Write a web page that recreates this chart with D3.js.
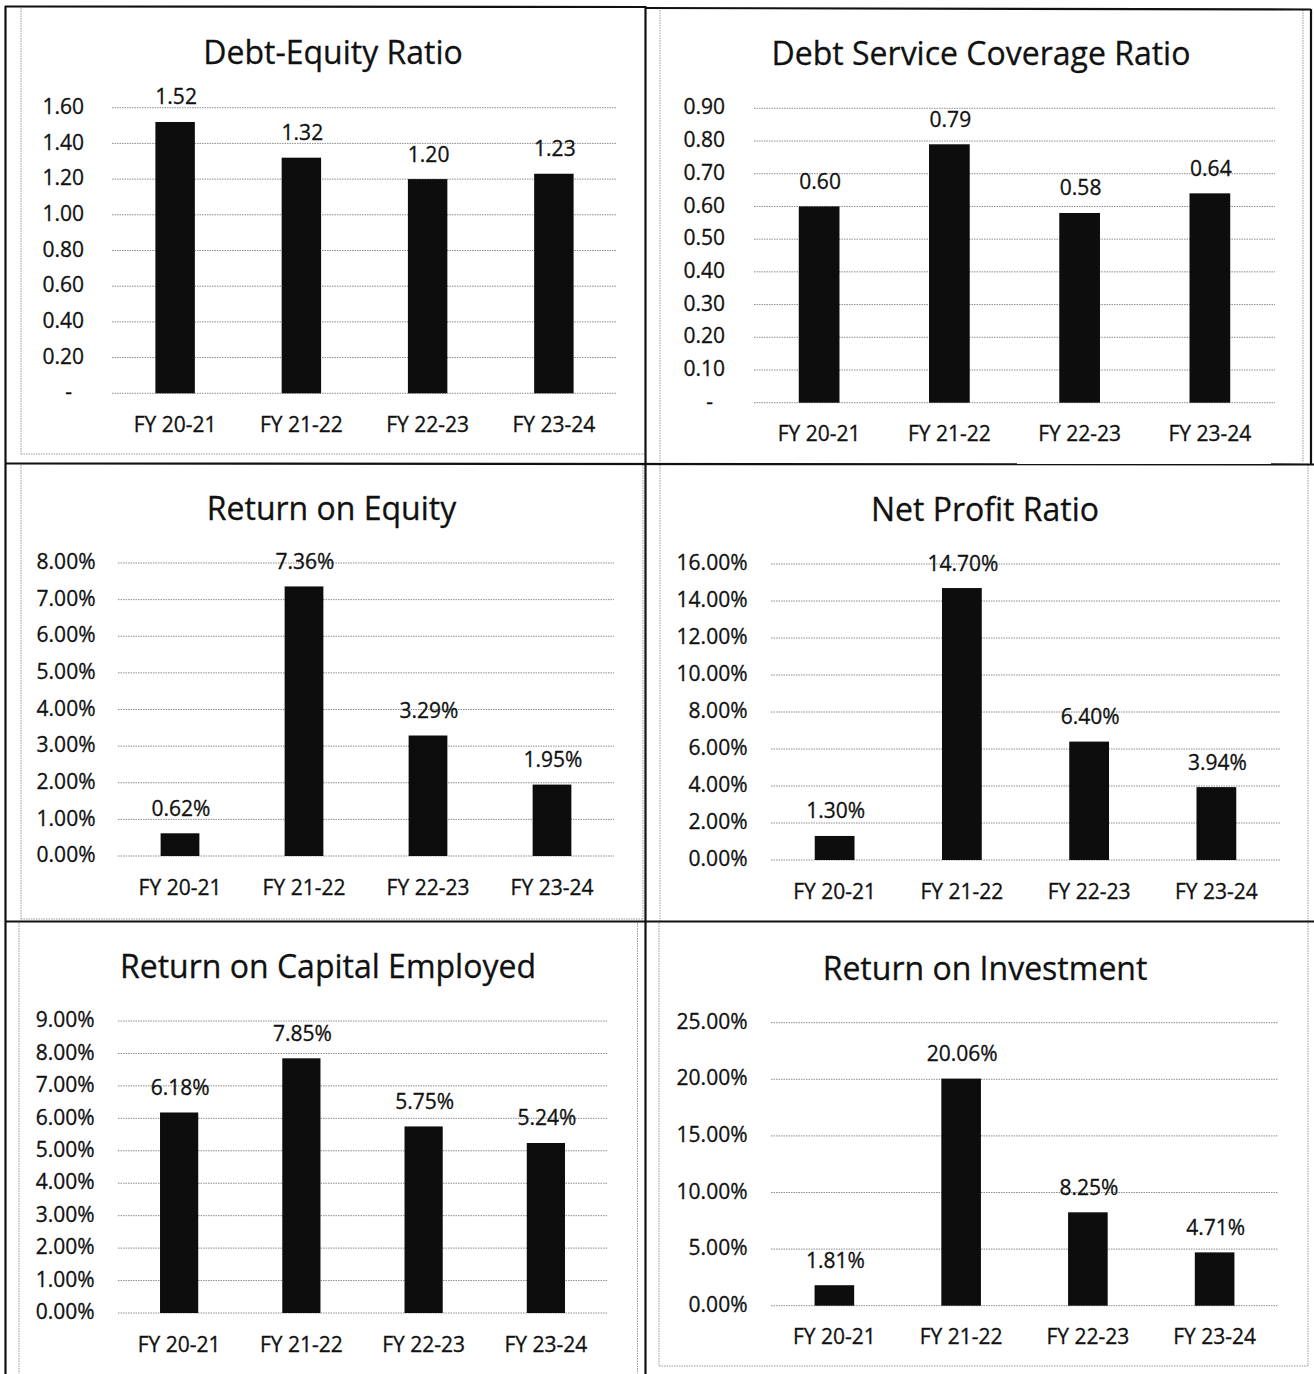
<!DOCTYPE html>
<html>
<head>
<meta charset="utf-8">
<script src="https://cdn.jsdelivr.net/npm/d3@7"></script>
<style>
  html, body { margin: 0; padding: 0; background: #fff; }
  svg { display: block; }
  text { font-family: "Open Sans", "Noto Sans", sans-serif; fill: #111; stroke: #111; stroke-width: 0.3px; }
</style>
</head>
<body>
<svg id="chart" width="1314" height="1374"></svg>
<script>
// ---------- DATA ----------
const categories = ["FY 20-21", "FY 21-22", "FY 22-23", "FY 23-24"];

const debtEquity        = [1.52, 1.32, 1.20, 1.23];
const debtService       = [0.60, 0.79, 0.58, 0.64];
const returnOnEquity    = [0.62, 7.36, 3.29, 1.95];   // %
const netProfit         = [1.30, 14.70, 6.40, 3.94];  // %
const returnOnCapital   = [6.18, 7.85, 5.75, 5.24];   // %
const returnOnInvestment= [1.81, 20.06, 8.25, 4.71];  // %

const ticksDE   = [0, 0.2, 0.4, 0.6, 0.8, 1.0, 1.2, 1.4, 1.6];
const ticksDSCR = [0, 0.1, 0.2, 0.3, 0.4, 0.5, 0.6, 0.7, 0.8, 0.9];
const ticksROE  = [0, 1, 2, 3, 4, 5, 6, 7, 8];
const ticksNPR  = [0, 2, 4, 6, 8, 10, 12, 14, 16];
const ticksROCE = [0, 1, 2, 3, 4, 5, 6, 7, 8, 9];
const ticksROI  = [0, 5, 10, 15, 20, 25];

const titles = ["Debt-Equity Ratio", "Debt Service Coverage Ratio", "Return on Equity",
                "Net Profit Ratio", "Return on Capital Employed", "Return on Investment"];

// ---------- FORMATS ----------
const fmtRatio = v => v === 0 ? "-" : d3.format(".2f")(v);
const fmtPct = v => d3.format(".2f")(v) + "%";

// ---------- LAYOUT ----------
const panels = [
  { title: titles[0], values: debtEquity, ticks: ticksDE, fmt: fmtRatio, isRatio: true,
    x0: 112, x1: 617, yZero: 393.3, yTop: 107.7, max: 1.6, pad: 28, titleX: 333, titleY: 63.5 },
  { title: titles[1], values: debtService, ticks: ticksDSCR, fmt: fmtRatio, isRatio: true,
    x0: 754, x1: 1275, yZero: 402.7, yTop: 108.3, max: 0.9, pad: 29, titleX: 981, titleY: 65 },
  { title: titles[2], values: returnOnEquity, ticks: ticksROE, fmt: fmtPct,
    x0: 118, x1: 614, yZero: 856, yTop: 563, max: 8, pad: 22.5, titleX: 331.5, titleY: 520 },
  { title: titles[3], values: netProfit, ticks: ticksNPR, fmt: fmtPct,
    x0: 771, x1: 1280, yZero: 860, yTop: 564, max: 16, pad: 23.5, titleX: 985, titleY: 520.5 },
  { title: titles[4], values: returnOnCapital, ticks: ticksROCE, fmt: fmtPct,
    x0: 118, x1: 607, yZero: 1313, yTop: 1021, max: 9, pad: 23.3, titleX: 328, titleY: 978 },
  { title: titles[5], values: returnOnInvestment, ticks: ticksROI, fmt: fmtPct,
    x0: 771, x1: 1278, yZero: 1305.7, yTop: 1022.7, max: 25, pad: 23.5, titleX: 985, titleY: 980 }
];

const svg = d3.select("#chart");
svg.append("rect").attr("width", 1314).attr("height", 1374).attr("fill", "#fff");

// ---------- inner (chart area) dotted borders ----------
const dotted = svg.append("g").attr("fill", "none").attr("stroke", "#9a9a9a")
  .attr("stroke-width", 1).attr("stroke-dasharray", "1.5 1");
const innerLines = [
  [21, 8, 21, 454], [21, 454, 645, 454],
  [660, 10, 660, 462], [1303, 10, 1303, 462],
  [21, 465, 21, 919], [643, 465, 643, 919], [21, 919, 643, 919],
  [660, 465, 660, 921], [1308, 465, 1308, 921],
  [19, 923, 19, 1374], [637.5, 923, 637.5, 1374],
  [659, 923, 659, 1366], [1308, 923, 1308, 1366], [659, 1366, 1308, 1366]
];
innerLines.forEach(l => dotted.append("line")
  .attr("x1", l[0]).attr("y1", l[1]).attr("x2", l[2]).attr("y2", l[3]));

// ---------- outer frame (thick) ----------
const frame = svg.append("g").attr("stroke", "#111").attr("stroke-width", 2.2).attr("fill", "none");
const frameLines = [
  [5, 6.5, 645, 7], [645, 8, 1311, 9.5],
  [5.5, 6, 5.5, 1374], [645.5, 6, 645.5, 1374], [1311, 9, 1311, 465],
  [5, 463.5, 1314, 464.5], [5, 921.5, 1314, 921.5]
];
frameLines.forEach(l => frame.append("line")
  .attr("x1", l[0]).attr("y1", l[1]).attr("x2", l[2]).attr("y2", l[3]));

// ---------- panels ----------
panels.forEach(p => {
  const g = svg.append("g");
  const x = d3.scaleBand().domain(categories).range([p.x0, p.x1])
    .paddingInner(0.6875).paddingOuter(0.34375);
  const y = d3.scaleLinear().domain([0, p.max]).range([p.yZero, p.yTop]);

  // title
  g.append("text").attr("x", p.titleX).attr("y", p.titleY)
    .attr("text-anchor", "middle").attr("font-size", 32).text(p.title);

  // gridlines
  g.append("g").selectAll("line").data(p.ticks).join("line")
    .attr("x1", p.x0).attr("x2", p.x1)
    .attr("y1", d => y(d)).attr("y2", d => y(d))
    .attr("stroke", "#8c8c8c").attr("stroke-width", 1).attr("stroke-dasharray", "1.5 1");

  // y axis
  const yAx = g.append("g").attr("transform", `translate(${p.x0},0)`)
    .call(d3.axisLeft(y).tickValues(p.ticks).tickFormat(p.fmt).tickSize(0).tickPadding(p.pad));
  yAx.select(".domain").remove();
  yAx.selectAll("text").attr("font-size", 21).attr("dy", "0.27em")
    .attr("font-family", '"Open Sans", sans-serif').attr("fill", "#111")
    .attr("dx", d => (p.isRatio && d === 0) ? -12 : 0);

  // bars
  g.append("g").selectAll("rect").data(p.values).join("rect")
    .attr("x", (d, i) => x(categories[i]))
    .attr("width", x.bandwidth())
    .attr("y", d => y(d))
    .attr("height", d => y(0) - y(d))
    .attr("fill", "#0d0d0d");

  // data labels
  g.append("g").selectAll("text").data(p.values).join("text")
    .attr("x", (d, i) => x(categories[i]) + x.bandwidth() / 2 + 1)
    .attr("y", d => y(d) - 17.5)
    .attr("text-anchor", "middle").attr("font-size", 21)
    .text(d => p.fmt(d));

  // x axis
  const xAx = g.append("g").attr("transform", `translate(0,${p.yZero})`)
    .call(d3.axisBottom(x).tickSize(0));
  xAx.select(".domain").remove();
  xAx.selectAll("text").attr("font-size", 21).attr("y", 38.5).attr("dy", 0)
    .attr("font-family", '"Open Sans", sans-serif').attr("fill", "#111");
});
</script>
</body>
</html>
